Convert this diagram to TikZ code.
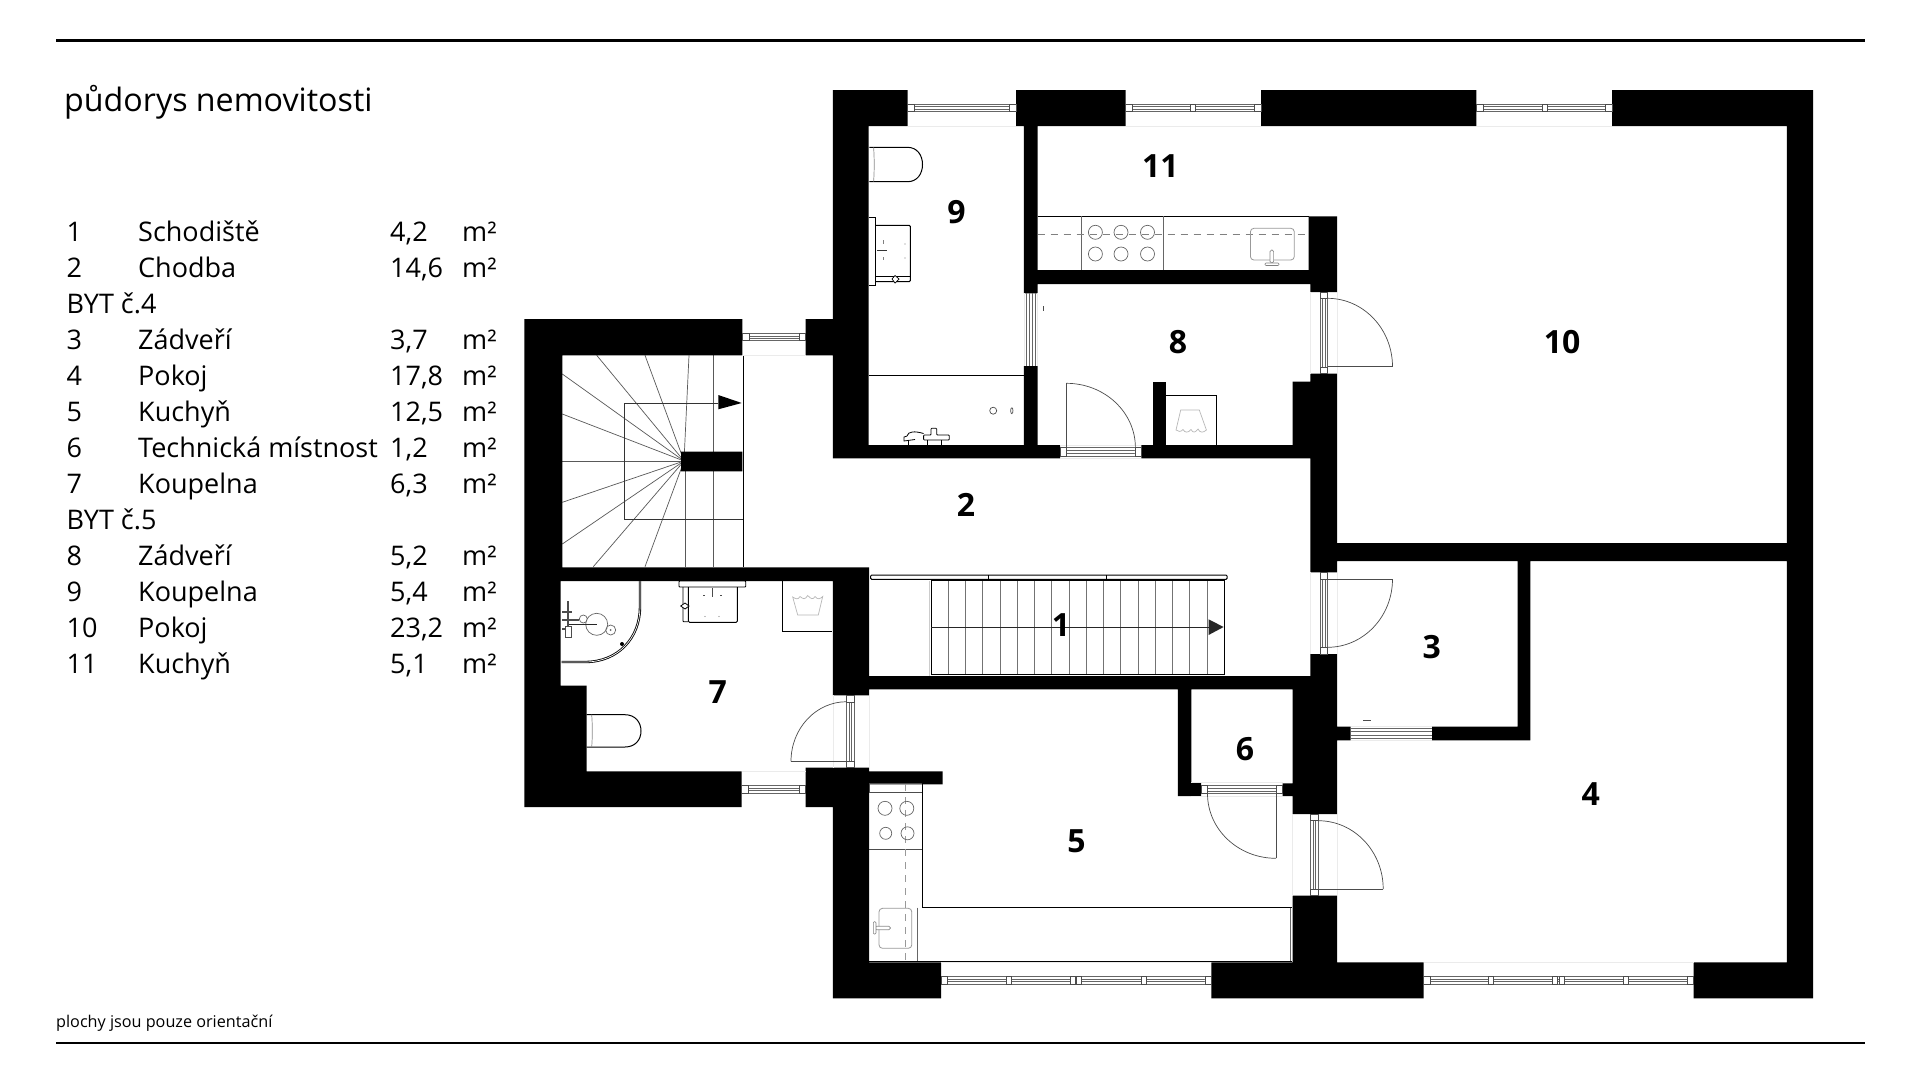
\documentclass[tikz,border=0pt]{standalone}
\usepackage{fontspec}
\setmainfont{Open Sans}
\tikzset{
 wall/.style={fill=black},
 thin line/.style={draw=black!70,line width=.7pt},
 fixture/.style={draw=black,line width=.9pt},
 greyfix/.style={draw=black!45,line width=.7pt},
 wframe/.style={draw=black!60,line width=.6pt},
 wcap/.style={draw=black!70,fill=white,line width=.6pt},
 reveal/.style={draw=black!8,line width=.6pt},
 room/.style={font=\bfseries\fontsize{32}{32}\selectfont,inner sep=0pt},
 listtxt/.style={font=\fontsize{27}{27}\selectfont,anchor=base west,inner sep=0pt},
}
\newcommand{\hwin}[5]{% x1 x2 y1 y2 mullions
 \pgfmathsetmacro{\ma}{#3+(#4-#3)*.36}\pgfmathsetmacro{\mb}{#3+(#4-#3)*.64}
 \draw[wframe] (#1,#3)--(#2,#3) (#1,#4)--(#2,#4) (#1,\ma)--(#2,\ma) (#1,\mb)--(#2,\mb);
 \pgfmathsetmacro{\ea}{#1+6.5}\pgfmathsetmacro{\eb}{#2-6.5}
 \draw[wcap] (#1,#3) rectangle (\ea,#4) (\eb,#3) rectangle (#2,#4);
 \foreach \mm in {#5}{\draw[wcap] (\mm-2.5,#3) rectangle (\mm+2.5,#4);}
}
\newcommand{\vwin}[4]{% x1 x2 y1 y2
 \pgfmathsetmacro{\ma}{#1+(#2-#1)*.36}\pgfmathsetmacro{\mb}{#1+(#2-#1)*.64}
 \draw[wframe] (#1,#3)--(#1,#4) (#2,#3)--(#2,#4) (\ma,#3)--(\ma,#4) (\mb,#3)--(\mb,#4);
 \pgfmathsetmacro{\ea}{#3+6.5}\pgfmathsetmacro{\eb}{#4-6.5}
 \draw[wcap] (#1,#3) rectangle (#2,\ea) (#1,\eb) rectangle (#2,#4);
}
\newcommand{\darc}[4]{% hinge x,y ; far x ; far y
 \pgfmathsetmacro{\ca}{#2+.5523*(#4-#2)}\pgfmathsetmacro{\cb}{#1+.5523*(#3-#1)}
 \draw[thin line] (#3,#2) .. controls (#3,\ca) and (\cb,#4) .. (#1,#4);
}
\begin{document}
\begin{tikzpicture}[x=1pt,y=-1pt]
\useasboundingbox (0,0) rectangle (1920,1080);
\fill[white] (0,0) rectangle (1920,1080);
% rules
\draw[line width=2.3pt] (56,40.5) -- (1865,40.5);
\draw[line width=1.8pt] (56,1043) -- (1865,1043);
% ---------- stairs 2 (tower)
\foreach \ex/\ey in {596.7/355.3,645/355.3,689/355.3,562.3/374,562.3/414,562.3/461,562.3/502.3,562.3/544,593.3/566.7,645/566.7}
  \draw[draw=black!65,line width=.7pt] (684,461) -- (\ex,\ey);
\draw[draw=black!65,line width=.7pt] (713.3,355.3)--(713.3,567) (685.7,461)--(685.7,567);
\draw[draw=black!80,line width=.9pt] (624.7,403) -- (718,403) (624.7,403) -- (624.7,519.3) -- (743.7,519.3);
\draw[draw=black,line width=1.1pt] (743.7,355.3) -- (743.7,567.3);
\fill[black] (718.3,395) -- (741.7,403) -- (718.3,409.3) -- cycle;
% ---------- stairs 1
\draw[draw=black!20,line width=.7pt] (929.6,581) -- (929.6,676);
\foreach \k in {1,...,16} \draw[draw=black!55,line width=.7pt] ({931+\k*17.25},580.7) -- ({931+\k*17.25},674.3);
\draw[draw=black,line width=1pt] (931,580.7) rectangle (1224.3,674.3);
\draw[draw=black!85,line width=.9pt] (931,627) -- (1210,627);
\fill[black!85] (1208.6,619.3) -- (1223.6,627) -- (1208.6,635) -- cycle;
\draw[draw=black,fill=white,line width=1pt,rounded corners=1pt] (870.7,575) rectangle (1227,579.3);
\draw[draw=black,line width=.9pt] (988.6,575)--(988.6,579.3) (1106.8,575)--(1106.8,579.3);
% ---------- walls
\fill[wall]
 (832.9,90) rectangle (907.5,126)
 (1016,90) rectangle (1125.7,126)
 (1261,90) rectangle (1476.4,126)
 (1612,90) rectangle (1813.2,126)
 (1786.8,90) rectangle (1813.2,998.3)
 (1693.6,962.3) rectangle (1813.2,998.3)
 (1211.4,962.3) rectangle (1423.6,998.3)
 (832.9,962.3) rectangle (941,998.3)
 (832.9,90) rectangle (868.6,458.3)
 (832.9,445) rectangle (1060,458.3)
 (1141.4,445) rectangle (1310.4,458.3)
 (1023.9,126) rectangle (1037.5,293.3)
 (1023.9,366) rectangle (1037.5,445)
 (1023.9,270) rectangle (1310.4,284)
 (1308.6,216.3) rectangle (1337,284)
 (1310.4,284) rectangle (1337,292)
 (1310.4,373.7) rectangle (1337,572.3)
 (1292.5,381.7) rectangle (1310.4,458.3)
 (1337,543) rectangle (1786.8,561)
 (1517.5,561) rectangle (1530.4,740.3)
 (1432,726.7) rectangle (1530.4,740.3)
 (1337,726.7) rectangle (1350.7,740.3)
 (1310.4,654) rectangle (1337,814)
 (1292.5,676) rectangle (1310.4,814)
 (1292.5,895.7) rectangle (1337.1,962.3)
 (869,676) rectangle (1292.5,689.3)
 (1177.9,689.3) rectangle (1191.4,796)
 (1191.4,782.7) rectangle (1201,796)
 (1282.5,783.3) rectangle (1292.5,796)
 (524.3,319) rectangle (742.3,355.3)
 (805.7,319) rectangle (833,355.3)
 (524.3,319) rectangle (562.3,581)
 (524.3,581) rectangle (560.7,807)
 (560.7,685.7) rectangle (586.7,807)
 (586.7,771.3) rectangle (741.7,807)
 (805.7,767.7) rectangle (833,807)
 (562.3,567.3) rectangle (869,581)
 (832.9,581) rectangle (869,695.3)
 (832.9,767.7) rectangle (869,962.3)
 (869,771.3) rectangle (942.5,784.3)
 (681,451.7) rectangle (742.3,471.3);
% faint reveals at openings
\draw[reveal] (907.5,126)--(1016,126) (1125.7,126)--(1261,126) (1476.4,126)--(1612,126)
 (941,962.3)--(1211.4,962.3) (1423.6,962.3)--(1693.6,962.3)
 (742.3,355.3)--(805.7,355.3) (741.7,771.3)--(805.7,771.3)
 (1310.4,292)--(1310.4,373.7) (1337,292)--(1337,373.7)
 (1310.4,572.3)--(1310.4,654) (1337,572.3)--(1337,654)
 (1292.5,814)--(1292.5,895.7) (1337,814)--(1337,895.7)
 (833,695.3)--(833,767.7) (869,695.3)--(869,767.7)
 (1060,458.5)--(1141.4,458.5) (1060,445)--(1141.4,445)
 (1350.7,726.7)--(1432,726.7) (1350.7,740.5)--(1432,740.5)
 (1191.4,782.7)--(1282.5,782.7) (1191.4,796)--(1282.5,796)
 (1023.9,293.3)--(1023.9,366) (1037.5,293.3)--(1037.5,366);
% ---------- windows
\hwin{907.5}{1016}{104}{111.7}{}
\hwin{1125.7}{1261}{104}{111.7}{1193.2}
\hwin{1476.4}{1612}{104}{111.7}{1544.3}
\hwin{941}{1211.4}{976.7}{984.3}{1009,1073,1079,1144}
\hwin{1423.6}{1693.6}{976.7}{984.3}{1490.7,1555,1561.8,1625.7}
\hwin{742.3}{805.7}{333.3}{340.7}{}
\hwin{741.7}{805.7}{785.7}{793.3}{}
\draw[wframe] (1350.7,728.3)--(1432,728.3) (1350.7,731.5)--(1432,731.5) (1350.7,735)--(1432,735) (1350.7,738.3)--(1432,738.3);
\draw[wframe] (1026.4,293.3)--(1026.4,366) (1029.4,293.3)--(1029.4,366) (1032.2,293.3)--(1032.2,366) (1035,293.3)--(1035,366);
% ---------- door frames
\vwin{846.7}{854.3}{695.3}{767.7}
\vwin{1320}{1327.5}{292}{373.7}
\vwin{1320}{1327.5}{572.7}{654}
\vwin{1310.7}{1318.2}{814}{895.7}
\hwin{1060}{1141.4}{447.7}{456}{}
\hwin{1201}{1282.5}{785.7}{793.7}{}
% ---------- door leaves
\draw[thin line] (846.7,761.3)--(791,761.3);\darc{846.7}{761.3}{791}{701.7}
\draw[thin line] (1327.5,366.7)--(1392.5,366.7);\darc{1327.5}{366.7}{1392.5}{298.3}
\draw[thin line] (1327.5,579)--(1392.5,579);\darc{1327.5}{579}{1392.5}{647.3}
\draw[thin line] (1318.2,889)--(1383.2,889);\darc{1318.2}{889}{1383.2}{820.7}
\draw[thin line] (1066.4,447.7)--(1066.4,383.3);\darc{1066.4}{447.7}{1135.4}{383.3}
\draw[thin line] (1276,793.7)--(1276,858.3);\darc{1276}{793.7}{1207.5}{858.3}
% ---------- toilets
\draw[fixture,line width=1pt] (586.7,714.7) -- (625,714.7) .. controls (635,714.7) and (641,722) .. (641,731) .. controls (641,740) and (635,747) .. (625,747) -- (586.7,747);
\draw[greyfix] (591.7,714.7) .. controls (592.5,725) and (592.5,737) .. (591.7,747);
\draw[fixture,line width=1pt] (869.3,147.3) -- (907.5,147.3) .. controls (917,147.3) and (922.5,155) .. (922.5,164.5) .. controls (922.5,174) and (917,181.7) .. (907.5,181.7) -- (869.3,181.7);
\draw[greyfix] (873.6,147.3) .. controls (874.4,158) and (874.4,171) .. (873.6,181.7);
% ---------- shower room 7
\draw[draw=black,line width=2.4pt] (640,581) -- (640,607) .. controls (640,638) and (618,662) .. (585,662) -- (561.7,662);
\draw[draw=white,line width=.7pt] (640,581) -- (640,607) .. controls (640,638) and (618,662) .. (585,662) -- (561.7,662);
\fill[black] (622,644) circle (2pt);
\draw[draw=black!60,line width=.7pt] (596.7,624.3) circle (11pt) (610.7,630) circle (5pt) (583.3,619) circle (4pt);
\fill[black!60] (610.7,630) circle (1pt);
\draw[draw=black!85,line width=1.5pt] (568,624.3)--(596.7,624.3);
\draw[draw=black!70,line width=1.1pt] (568,601)--(568,630) (562.3,612)--(572,612) (562.3,620)--(579,620) (562.3,629)--(572,629);
\draw[draw=black!70,fill=white,line width=.7pt] (565,626) rectangle (571,637);
% ---------- sink room 7
\draw[fixture,rounded corners=.8pt,fill=white] (679,581) rectangle (745.7,587);
\draw[fixture,rounded corners=1.2pt] (688.3,587) -- (688.3,622.3) -- (737.3,622.3) -- (737.3,587);
\draw[fixture,rounded corners=.8pt] (683,587) -- (683,621.7) -- (688,621.7);
\draw[draw=black,fill=white,line width=.8pt] (685,603) -- (680.7,606) -- (685,609) -- (689,606) -- cycle;
\draw[draw=black!70,line width=.7pt] (712.3,588)--(712.3,597) (703,595)--(705,595) (720,595)--(722,595);
\fill[black!50] (705,616.5) circle (.6pt) (719,616.5) circle (.6pt);
% ---------- laundry room 7
\draw[fixture,line width=.8pt] (782.3,581) -- (782.3,631) -- (832.3,631);
\draw[draw=black!28,line width=.7pt] (792.7,597) .. controls (796,599) and (798,600) .. (800,596.5) .. controls (803,599) and (805,600) .. (807.7,595.5) .. controls (811,599) and (813,600) .. (815,596.5) .. controls (818,600) and (820,599) .. (822.7,596.5) -- (818.3,615) -- (797.7,615) -- cycle;
% ---------- room 9 sink
\draw[fixture,line width=.9pt] (869.3,217.3) -- (875.7,217.3) -- (875.7,285) -- (869.3,285);
\draw[fixture,rounded corners=1.2pt,line width=1pt] (875.7,225.3) -- (910.4,225.3) -- (910.4,281.7) -- (875.7,281.7);
\draw[fixture,line width=1pt] (875.7,276.7) -- (910.4,276.7);
\draw[draw=black,fill=white,line width=.7pt] (895,275.5) -- (899,279) -- (895,283) -- (892,279) -- cycle;
\draw[draw=black!80,line width=.8pt] (877,250.7)--(887,250.7);
\draw[draw=black!50,line width=.6pt] (883,240)--(883,244) (883,257)--(883,260);
\fill[black!50] (905,244) circle (.6pt) (905,258) circle (.6pt);
% ---------- bath room 9
\draw[fixture] (868.6,375.7) -- (1023.9,375.7);
\draw[draw=black!70,line width=.7pt] (993.2,410.7) circle (3.5pt);
\draw[draw=black!70,line width=.7pt] (1011.8,407.7) .. controls (1013.3,407.7) and (1013.3,413.7) .. (1011.8,413.7) .. controls (1010.3,413.7) and (1010.3,407.7) .. (1011.8,407.7);
\draw[draw=black,line width=.8pt,fill=white,rounded corners=.8pt] (923.6,435) -- (931,435) -- (931,428.3) -- (936.7,428.3) -- (936.7,435) -- (949.3,435) -- (949.3,440) -- (923.6,440) -- cycle;
\draw[draw=black,line width=.8pt] (923.6,433.5) .. controls (915,431) and (908,431) .. (907,436) -- (904,437) -- (904,441) -- (915,439.5);
\draw[draw=black,line width=.8pt] (908.5,441)--(908.5,444.5) (927,440)--(927,444.5) (941,440)--(941,444.5);
% ---------- kitchen 11
\draw[fixture] (1037.5,216.3) -- (1308.6,216.3) (1037.5,270) -- (1308.6,270);
\draw[draw=black!60,line width=.8pt] (1081.4,216.3)--(1081.4,270) (1162.9,216.3)--(1162.9,270);
\draw[draw=black!50,line width=.8pt,dash pattern=on 7pt off 6pt] (1037.5,234) -- (1308.6,234);
\foreach \hx in {1095.4,1121,1147.5} \draw[draw=black!60,line width=.7pt] (\hx,232.3) circle (7pt) (\hx,254) circle (7pt);
\draw[draw=black!40,line width=.8pt,rounded corners=3.5pt] (1250.4,228.3) rectangle (1294.3,260);
\draw[draw=black!45,fill=white,line width=.7pt,rounded corners=1.5pt] (1270,250) rectangle (1273.6,263);
\draw[draw=black!50,fill=white,line width=.6pt,rounded corners=1pt] (1265,263) rectangle (1279,265.5);
% ---------- room 8 washer
\fill[wall] (1152.9,381.7) rectangle (1166.4,445);
\draw[fixture] (1166.4,395) -- (1216.4,395) -- (1216.4,445);
\draw[draw=black!28,line width=.7pt] (1180.7,410) -- (1199.3,410) -- (1206.4,430) .. controls (1203,433) and (1200,433) .. (1198,429) .. controls (1195,433) and (1193,433) .. (1191,429.5) .. controls (1188,433) and (1185,433) .. (1183,429.5) .. controls (1181,432) and (1178,432) .. (1176,430) -- cycle;
% tiny marks
\draw[draw=black!70,line width=.8pt] (1043.2,306) -- (1043.2,311);
\draw[draw=black!70,line width=.8pt] (1363,720.7) -- (1370.5,720.7);
% ---------- kitchen 5
\draw[draw=black!70,line width=.7pt] (869,783.5) rectangle (922,792.3) (869,849.7) -- (922,849.7);
\draw[fixture,line width=.8pt] (922,783) -- (922,907.7) -- (1292,907.7);
\draw[draw=black!60,line width=.7pt] (917.5,907.7) -- (917.5,961.7) (1290,907.7) -- (1290,961.7);
\draw[fixture,line width=.8pt] (869,961.7) -- (1292,961.7);
\draw[draw=black!40,line width=.8pt,dash pattern=on 7pt off 6pt] (905,784.3) -- (905,961.7);
\draw[draw=black!60,line width=.7pt] (885,808.3) circle (7pt) (906.8,808.3) circle (7pt) (885.7,833.3) circle (6pt) (907.5,833.3) circle (6.5pt);
\draw[draw=black!40,line width=.8pt,rounded corners=3.5pt] (879,908.3) rectangle (911.8,948.3);
\draw[draw=black!45,fill=white,line width=.7pt,rounded corners=1.5pt] (875,926.3) rectangle (890.4,929.7);
\draw[draw=black!50,fill=white,line width=.6pt,rounded corners=1pt] (873.3,921.7) rectangle (876,934);
% ---------- room numbers
\node[room] (r1) at (1061,625) {1};
\node[room] (r2) at (966,504.5) {2};
\node[room] (r3) at (1431.8,646.7) {3};
\node[room] (r4) at (1590.7,794.3) {4};
\node[room] (r5) at (1076.4,841) {5};
\node[room] (r6) at (1245,749) {6};
\node[room] (r7) at (717.7,692.3) {7};
\node[room] (r8) at (1177.9,342.3) {8};
\node[room] (r9) at (956.4,212) {9};
\node[room] (r10) at (1562,342.3) {10};
\node[room] (r11) at (1160.4,166) {11};
% ---------- texts
\node[anchor=base west,inner sep=0pt,font=\fontsize{32.2}{32}\selectfont] (title) at (64,111) {půdorys nemovitosti};
\node[anchor=base west,inner sep=0pt,font=\fontsize{16.2}{16}\selectfont] (foot) at (56,1027) {plochy jsou pouze orientační};
\foreach \n/\yy/\num/\nm/\ar in {
 a/241/1/Schodiště/{4,2},
 b/277/2/Chodba/{14,6},
 d/349/3/Zádveří/{3,7},
 e/385/4/Pokoj/{17,8},
 f/421/5/Kuchyň/{12,5},
 g/457/6/Technická místnost/{1,2},
 h/493/7/Koupelna/{6,3},
 j/565/8/Zádveří/{5,2},
 k/601/9/Koupelna/{5,4},
 l/637/10/Pokoj/{23,2},
 m/673/11/Kuchyň/{5,1}}{
 \node[listtxt] (num\n) at (66.5,\yy) {\num};
 \node[listtxt] (nam\n) at (138,\yy) {\nm};
 \node[listtxt] (are\n) at (390,\yy) {\ar};
 \node[listtxt] (unit\n) at (462,\yy) {m²};
}
\node[listtxt] (byt4) at (66.5,313) {BYT č.4};
\node[listtxt] (byt5) at (66.5,529) {BYT č.5};
\end{tikzpicture}
\end{document}
